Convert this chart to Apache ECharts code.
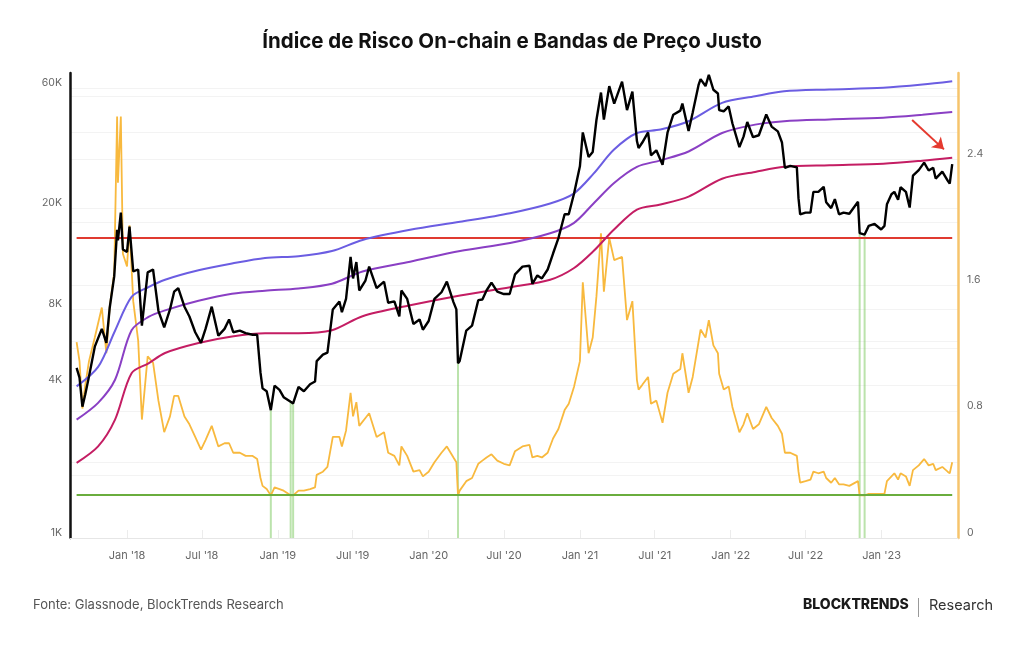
<!DOCTYPE html>
<html>
<head>
<meta charset="utf-8">
<title>Índice de Risco On-chain e Bandas de Preço Justo</title>
<script src="https://cdn.jsdelivr.net/npm/echarts@6/dist/echarts.min.js"></script>
<style>
  html, body { margin: 0; padding: 0; background: #fff; }
  #main { width: 1024px; height: 645px; }
</style>
</head>
<body>
<div id="main"></div>
<script>
// datas (quinzenais + extremos) do preço e do índice de risco
var dates = [
  '2017-09-01','2017-09-08','2017-09-15','2017-09-22','2017-10-01','2017-10-15','2017-11-01','2017-11-12','2017-11-20','2017-12-01','2017-12-08','2017-12-10','2017-12-17','2017-12-22',
  '2018-01-01','2018-01-07','2018-01-16','2018-01-28','2018-02-06','2018-02-20','2018-03-05','2018-03-18','2018-04-01','2018-04-15','2018-04-25','2018-05-05','2018-05-20','2018-06-01','2018-06-15','2018-06-29','2018-07-10','2018-07-25','2018-08-10','2018-08-25','2018-09-05','2018-09-15','2018-10-01','2018-10-15','2018-11-01','2018-11-12','2018-11-20','2018-11-25','2018-12-05','2018-12-15','2018-12-24',
  '2019-01-05','2019-01-15','2019-02-01','2019-02-07','2019-02-20','2019-03-05','2019-03-20','2019-04-01','2019-04-05','2019-04-20','2019-05-01','2019-05-14','2019-05-30','2019-06-05','2019-06-15','2019-06-26','2019-07-02','2019-07-10','2019-07-17','2019-08-01','2019-08-10','2019-08-28','2019-09-15','2019-09-25','2019-10-10','2019-10-22','2019-10-27','2019-11-10','2019-11-25','2019-12-10','2019-12-18',
  '2020-01-01','2020-01-15','2020-02-01','2020-02-14','2020-03-01','2020-03-08','2020-03-12','2020-03-16','2020-04-01','2020-04-15','2020-04-30','2020-05-10','2020-05-20','2020-06-01','2020-06-15','2020-07-01','2020-07-15','2020-07-28','2020-08-15','2020-09-01','2020-09-08','2020-09-20','2020-10-01','2020-10-15','2020-10-28','2020-11-10','2020-11-25','2020-12-05','2020-12-18',
  '2021-01-01','2021-01-08','2021-01-22','2021-02-01','2021-02-10','2021-02-21','2021-02-28','2021-03-13','2021-03-25','2021-04-13','2021-04-25','2021-05-08','2021-05-19','2021-05-23','2021-06-01','2021-06-15','2021-06-22','2021-07-05','2021-07-20','2021-08-01','2021-08-15','2021-09-01','2021-09-06','2021-09-21','2021-10-01','2021-10-15','2021-10-20','2021-11-01','2021-11-09','2021-11-20','2021-12-01','2021-12-04','2021-12-15','2021-12-27',
  '2022-01-05','2022-01-22','2022-02-01','2022-02-10','2022-02-24','2022-03-10','2022-03-28','2022-04-10','2022-04-25','2022-05-05','2022-05-12','2022-05-25','2022-06-10','2022-06-14','2022-06-18','2022-07-01','2022-07-13','2022-07-20','2022-08-01','2022-08-14','2022-08-20','2022-09-01','2022-09-10','2022-09-20','2022-10-01','2022-10-15','2022-11-05','2022-11-09','2022-11-21','2022-12-01','2022-12-15','2022-12-31',
  '2023-01-08','2023-01-14','2023-01-25','2023-02-01','2023-02-10','2023-02-16','2023-03-01','2023-03-10','2023-03-18','2023-04-01','2023-04-14','2023-04-25','2023-05-06','2023-05-12','2023-05-28','2023-06-10','2023-06-15','2023-06-21'
];
var prices = [
  4700, 4300, 3300, 3700, 4350, 5700, 6700, 5900, 8100, 10800, 16500, 15000, 19300, 13800,
  13500, 17000, 11300, 11500, 6900, 11200, 11500, 7900, 6800, 8000, 9400, 9700, 8200, 7500, 6500, 5900, 6700, 8200, 6300, 6700, 7300, 6500, 6600, 6450, 6350, 6350, 4500, 3900, 3800, 3200, 4000,
  3850, 3600, 3450, 3400, 3950, 3800, 4050, 4150, 5000, 5300, 5400, 8000, 8600, 7800, 8800, 12900, 10600, 12300, 9500, 10400, 11800, 9700, 10300, 8500, 8600, 7500, 9500, 8800, 7000, 7300, 6650,
  7200, 8800, 9350, 10300, 8550, 8000, 4900, 5000, 6600, 6900, 8700, 8750, 9500, 10200, 9400, 9200, 9200, 11000, 11800, 11900, 10100, 10900, 10600, 11500, 13300, 15300, 19000, 19000, 23000,
  29400, 40000, 32000, 33500, 44800, 57500, 45000, 61000, 52000, 63500, 49000, 58000, 37000, 34700, 36500, 40000, 32500, 34000, 29800, 39900, 47000, 48800, 52000, 40500, 48000, 61500, 65000, 61000, 67500, 59000, 57000, 49000, 48500, 50700,
  43500, 35000, 38500, 44000, 38300, 39000, 47100, 42200, 40400, 36500, 29000, 29500, 29100, 22000, 19000, 19300, 19300, 23300, 23300, 24400, 21200, 20100, 21800, 19000, 19300, 19100, 21300, 16000, 15800, 17100, 17400, 16550,
  17100, 20800, 22800, 23300, 21700, 24300, 23300, 20200, 27000, 28400, 30400, 28300, 29000, 26300, 28000, 25800, 25100, 30000
];
var risk = [
  1.24, 1.12, 0.82, 0.97, 1.12, 1.27, 1.46, 1.17, 1.46, 1.68, 2.67, 2.25, 2.67, 1.80,
  1.72, 1.98, 1.50, 1.25, 0.75, 1.15, 1.11, 0.87, 0.67, 0.77, 0.90, 0.90, 0.77, 0.72, 0.64, 0.56, 0.62, 0.71, 0.58, 0.60, 0.60, 0.54, 0.54, 0.52, 0.52, 0.50, 0.38, 0.33, 0.31, 0.27, 0.32,
  0.31, 0.30, 0.27, 0.27, 0.30, 0.30, 0.31, 0.32, 0.40, 0.42, 0.45, 0.64, 0.64, 0.58, 0.68, 0.92, 0.77, 0.86, 0.71, 0.76, 0.79, 0.64, 0.67, 0.54, 0.52, 0.46, 0.58, 0.52, 0.42, 0.43, 0.39,
  0.42, 0.48, 0.54, 0.58, 0.51, 0.48, 0.27, 0.30, 0.36, 0.38, 0.47, 0.49, 0.51, 0.53, 0.49, 0.47, 0.46, 0.55, 0.58, 0.59, 0.51, 0.52, 0.51, 0.54, 0.63, 0.69, 0.81, 0.85, 0.96,
  1.12, 1.62, 1.17, 1.27, 1.53, 1.93, 1.56, 1.90, 1.76, 1.78, 1.38, 1.50, 1.00, 0.94, 0.97, 1.02, 0.85, 0.87, 0.73, 0.92, 1.04, 1.07, 1.17, 0.92, 1.02, 1.24, 1.32, 1.27, 1.38, 1.22, 1.17, 1.04, 0.94, 0.96,
  0.83, 0.67, 0.72, 0.79, 0.69, 0.72, 0.83, 0.76, 0.71, 0.66, 0.54, 0.54, 0.52, 0.42, 0.35, 0.36, 0.37, 0.42, 0.41, 0.42, 0.38, 0.35, 0.38, 0.34, 0.34, 0.33, 0.36, 0.27, 0.27, 0.28, 0.28, 0.28,
  0.28, 0.36, 0.39, 0.41, 0.37, 0.41, 0.39, 0.33, 0.43, 0.46, 0.50, 0.46, 0.47, 0.43, 0.45, 0.42, 0.41, 0.48
];

// bandas de preço justo
var bandDates = ['2017-09-01','2017-10-23','2017-12-03','2018-01-12','2018-02-22','2018-04-03','2018-06-23','2018-09-12','2018-12-01','2019-02-20','2019-05-12','2019-07-25','2019-11-17','2020-03-17','2020-07-16','2020-10-21','2020-12-17','2021-02-03','2021-03-24','2021-05-19','2021-07-15','2021-09-21','2021-12-11','2022-03-01','2022-05-10','2022-08-28','2023-01-05','2023-04-10','2023-06-21'];
var bandHigh = [3970, 4740, 6590, 8960, 9800, 10480, 11420, 12140, 12770, 12980, 13600, 15050, 16500, 17750, 19200, 20970, 22940, 27500, 34170, 39800, 41070, 44300, 52350, 55600, 58200, 59150, 60100, 61860, 63750];
var bandMid = [2935, 3420, 4220, 6620, 7470, 7930, 8650, 9220, 9480, 9680, 10100, 11300, 12350, 13600, 14640, 15990, 17540, 20970, 25220, 29270, 31040, 33650, 39800, 42950, 44300, 45040, 45770, 47000, 48170];
var bandLow = [1980, 2300, 2935, 4480, 4900, 5380, 5890, 6250, 6440, 6440, 6620, 7520, 8300, 9080, 9790, 10480, 11630, 13600, 16500, 19830, 20760, 22320, 26260, 27920, 29270, 29690, 30100, 30930, 31760];

// limites do índice de risco
var riskHigh = 1.9;
var riskLow = 0.272;

// sinais de compra (índice no limite inferior)
var signalDates = ['2018-12-15', '2019-02-01', '2019-02-07', '2020-03-12', '2022-11-09', '2022-11-21'];

// seta (data, preço)
var arrowFrom = ['2023-03-16', 44800];
var arrowTo = ['2023-06-01', 34300];

// eixos
var xMin = '2017-08-16';
var xMax = '2023-07-05';
var xTicks = ['2018-01-01','2018-07-01','2019-01-01','2019-07-01','2020-01-01','2020-07-01','2021-01-01','2021-07-01','2022-01-01','2022-07-01','2023-01-01'];
var priceMin = 1000;
var priceMax = 68700;
var priceTicks = [1000, 4000, 8000, 20000, 60000];
var priceGrid = [2000, 4000, 6000, 8000, 10000, 20000, 40000, 60000];
var riskTicks = [0, 0.8, 1.6, 2.4];
var riskGrid = [0.4, 0.8, 1.2, 1.6, 2.0, 2.4, 2.8];
var riskMax = 2.945;

// mini extend (sem jQuery)
var $ = { extend : function(a, b) { for (var k in b) a[k] = b[k]; return a; } };

var View = function() {
	var fontFamily = 'Inter, "Noto Sans", sans-serif';
	var monthNames = ['Jan','Feb','Mar','Apr','May','Jun','Jul','Aug','Sep','Oct','Nov','Dec'];

	var ts = function(d) {
		return Date.parse(d + 'T00:00:00Z');
	}

	var pairs = function(xs, ys) {
		return xs.map(function(x, i) { return [ts(x), ys[i]]; });
	}

	var priceAt = function(d) {
		return prices[dates.indexOf(d)];
	}

	var signalLines = function() {
		var out = [];
		signalDates.forEach(function(d) {
			out.push([ts(d), priceMin]);
			out.push([ts(d), priceAt(d)]);
			out.push([ts(d), '-']);
		});
		return out;
	}

	var lineSeries = function(name, data, color, width, yAxisIndex, z) {
		return {
			name : name,
			type : 'line',
			data : data,
			yAxisIndex : yAxisIndex,
			showSymbol : false,
			symbol : 'none',
			z : z,
			lineStyle : { color : color, width : width },
			itemStyle : { color : color },
			emphasis : { disabled : true }
		};
	}

	var initChart = function() {
		var myChart = echarts.init(document.getElementById('main'), null, { renderer : 'canvas' });
		var startDate = dates[0];
		var endDate = dates[dates.length - 1];
		var bandOpts = { smooth : 0.3 };

		var option = {
			animation : false,
			backgroundColor : '#ffffff',
			textStyle : { fontFamily : fontFamily },
			title : {
				text : 'Índice de Risco On-chain e Bandas de Preço Justo',
				left : 'center',
				top : 26,
				textStyle : { fontSize : 20.5, fontWeight : 'bold', color : '#111', fontFamily : fontFamily }
			},
			grid : { left : 70, right : 66, top : 73, bottom : 107 },
			xAxis : {
				type : 'value',
				min : ts(xMin),
				max : ts(xMax),
				axisLine : { show : true, lineStyle : { color : '#e6e6e6', width : 1 } },
				axisTick : { show : true, inside : true, length : 8, customValues : xTicks.map(ts), lineStyle : { color : '#ececec' } },
				axisLabel : {
					customValues : xTicks.map(ts),
					color : '#666',
					fontSize : 11,
					margin : 12,
					fontFamily : fontFamily,
					formatter : function(value) {
						var d = new Date(value);
						return monthNames[d.getUTCMonth()] + " '" + String(d.getUTCFullYear()).slice(2);
					}
				},
				splitLine : { show : false }
			},
			yAxis : [ {
				// escala logarítmica do preço (desenha os dados)
				type : 'log',
				min : priceMin,
				max : priceMax,
				position : 'left',
				axisLine : { show : false },
				axisTick : { show : false },
				axisLabel : { show : false },
				splitLine : { show : false }
			}, {
				// índice de risco
				type : 'value',
				min : 0,
				max : riskMax,
				position : 'right',
				axisLine : { show : true, lineStyle : { color : '#f6c46c', width : 2.5 } },
				axisTick : { show : false, customValues : riskGrid },
				axisLabel : { customValues : riskTicks, color : '#666', fontSize : 10.5, margin : 9, verticalAlign : 'bottom', lineHeight : 11, fontFamily : fontFamily },
				splitLine : { show : true, lineStyle : { color : '#f3f3f3', width : 1 } }
			}, {
				// rótulos do eixo de preço (log10)
				type : 'value',
				min : Math.log10(priceMin),
				max : Math.log10(priceMax),
				position : 'left',
				axisLine : { show : true, lineStyle : { color : '#111', width : 2.5 } },
				axisTick : { show : false, customValues : priceGrid.map(Math.log10) },
				axisLabel : {
					customValues : priceTicks.map(Math.log10),
					color : '#666',
					fontSize : 10.5,
					margin : 8,
					verticalAlign : 'bottom',
					lineHeight : 11,
					fontFamily : fontFamily,
					formatter : function(v) {
						return Math.round(Math.pow(10, v) / 1000) + 'K';
					}
				},
				splitLine : { show : true, lineStyle : { color : '#f3f3f3', width : 1 } }
			} ],
			series : [
				$.extend(lineSeries('Sinais', signalLines(), 'rgba(120,200,90,0.5)', 2, 0, 1), { connectNulls : false }),
				lineSeries('Índice de Risco', pairs(dates, risk), '#f8b93e', 1.8, 1, 2),
				lineSeries('Limite superior', pairs([startDate, endDate], [riskHigh, riskHigh]), '#e03a30', 2, 1, 3),
				lineSeries('Limite inferior', pairs([startDate, endDate], [riskLow, riskLow]), '#6aad3d', 2, 1, 3),
				$.extend(lineSeries('Banda inferior', pairs(bandDates, bandLow), '#c41d63', 2, 0, 4), bandOpts),
				$.extend(lineSeries('Banda média', pairs(bandDates, bandMid), '#8a3fc4', 2, 0, 4), bandOpts),
				$.extend(lineSeries('Banda superior', pairs(bandDates, bandHigh), '#6b5de2', 2, 0, 4), bandOpts),
				$.extend(lineSeries('Preço', pairs(dates, prices), '#000000', 2.4, 0, 5), {
					markLine : {
						silent : true,
						symbol : [ 'none', 'arrow' ],
						symbolSize : 11,
						label : { show : false },
						lineStyle : { color : '#e53a2f', width : 2, type : 'solid' },
						data : [ [ { coord : [ts(arrowFrom[0]), arrowFrom[1]] }, { coord : [ts(arrowTo[0]), arrowTo[1]] } ] ]
					}
				})
			],
			graphic : [ {
				type : 'text',
				left : 33,
				top : 599,
				style : { text : 'Fonte: Glassnode, BlockTrends Research', fill : '#555', fontSize : 13, fontFamily : fontFamily }
			}, {
				type : 'text',
				left : 803,
				top : 598,
				style : { text : 'BLOCKTRENDS', fill : '#1a1a1a', fontSize : 14, fontWeight : 800, fontFamily : fontFamily }
			}, {
				type : 'rect',
				left : 918,
				top : 598,
				shape : { width : 1, height : 19 },
				style : { fill : '#999' }
			}, {
				type : 'text',
				left : 929,
				top : 598,
				style : { text : 'Research', fill : '#333', fontSize : 14.5, fontFamily : fontFamily }
			} ]
		};
		myChart.setOption(option);
		return myChart;
	}

	return {
		init : function() {
			initChart();
		}
	}
}();

View.init();
</script>
</body>
</html>
